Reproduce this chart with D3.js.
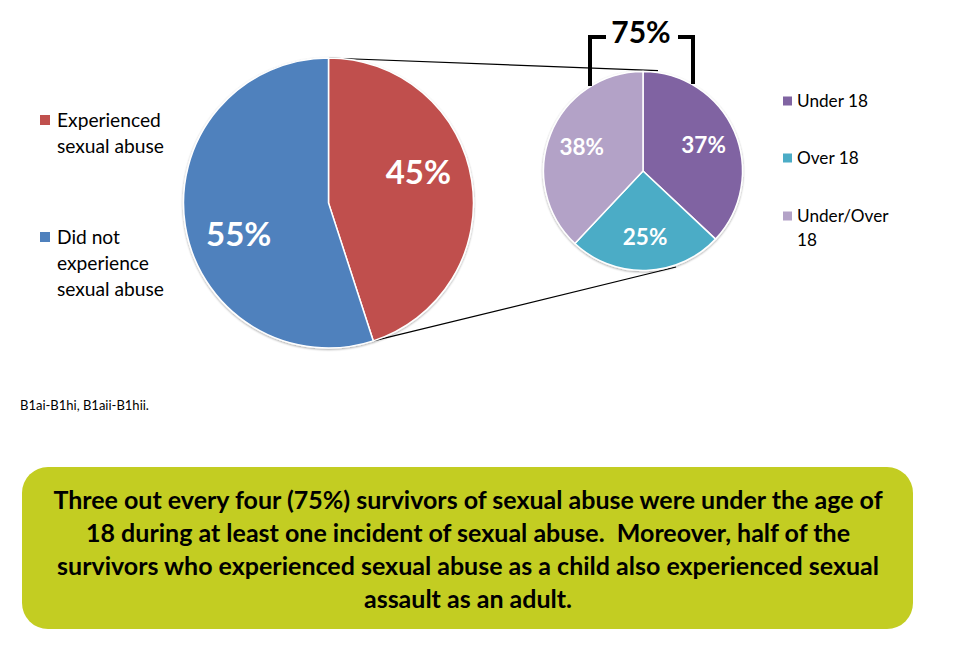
<!DOCTYPE html>
<html>
<head>
<meta charset="utf-8">
<script src="https://cdn.jsdelivr.net/npm/d3@7"></script>
<style>
  body { margin: 0; background: #fff; }
  svg { display: block; font-family: Lato, "Open Sans", sans-serif; }
</style>
</head>
<body>
<svg id="chart" width="961" height="649"></svg>
<script>
// main pie
var mainLabels = ["Experienced sexual abuse", "Did not experience sexual abuse"];
var mainValues = [45, 55];
var mainColors = ["#c0504d", "#4f81bd"];
// breakdown pie of the 45%
var subLabels = ["Under 18", "Over 18", "Under/Over 18"];
var subValues = [37, 25, 38];
var subColors = ["#8064a2", "#4bacc6", "#b3a2c7"];
var bracketLabel = "75%";
var noteLines = [
    "Three out every four (75%) survivors of sexual abuse were under the age of",
    "18 during at least one incident of sexual abuse.  Moreover, half of the",
    "survivors who experienced sexual abuse as a child also experienced sexual",
    "assault as an adult."
];
var sourceText = "B1ai-B1hi, B1aii-B1hii.";

var svg = d3.select("#chart");

var big = {cx: 328.5, cy: 203, r: 145};
var small = {cx: 643, cy: 171, r: 99.5};

var pie = d3.pie().sort(null).value(function (d) { return d; });

// soft edge like the office shadow
var defs = svg.append("defs");
var f = defs.append("filter").attr("id", "sh").attr("x", "-10%").attr("y", "-10%")
    .attr("width", "120%").attr("height", "120%");
f.append("feGaussianBlur").attr("in", "SourceAlpha").attr("stdDeviation", 1.2);
f.append("feOffset").attr("dx", 0).attr("dy", 0.5).attr("result", "b");
f.append("feComponentTransfer").append("feFuncA").attr("type", "linear").attr("slope", 0.35);
var fm = f.append("feMerge");
fm.append("feMergeNode");
fm.append("feMergeNode").attr("in", "SourceGraphic");

function pt(c, ang, r) {
    return [c.cx + r * Math.sin(ang), c.cy - r * Math.cos(ang)];
}

// connector lines between the two pies
var bigArcs = pie(mainValues);
var joinA = [0, bigArcs[0].endAngle];
var joinB = [8.5 * Math.PI / 180, 161 * Math.PI / 180];
var line = d3.line();
joinA.forEach(function (a, i) {
    svg.append("path")
        .attr("d", line([pt(big, a, big.r), pt(small, joinB[i], small.r + 2)]))
        .attr("stroke", "#000").attr("stroke-width", 1.2).attr("fill", "none");
});

function drawPie(c, values, colors, labelR, turn, fontSize) {
    var g = svg.append("g").attr("transform", "translate(" + c.cx + "," + c.cy + ")");
    var arc = d3.arc().innerRadius(0).outerRadius(c.r);
    var arcs = pie(values);
    var s = g.append("g").attr("filter", "url(#sh)");
    s.selectAll("path").data(arcs).enter().append("path")
        .attr("d", arc)
        .attr("fill", function (d, i) { return colors[i]; })
        .attr("stroke", "#fff").attr("stroke-width", 1.5);
    function lp(d) {
        var a = (d.startAngle + d.endAngle) / 2 + turn * Math.PI / 180;
        return [labelR * Math.sin(a), -labelR * Math.cos(a)];
    }
    g.selectAll("text").data(arcs).enter().append("text")
        .attr("x", function (d) { return lp(d)[0]; })
        .attr("y", function (d) { return lp(d)[1]; })
        .attr("dy", "0.36em")
        .attr("text-anchor", "middle")
        .attr("fill", "#fff")
        .attr("font-weight", "bold")
        .attr("font-size", fontSize)
        .text(function (d) { return d.data + "%"; });
    return g;
}

drawPie(big, mainValues, mainColors, 95, -10, 33);
drawPie(small, subValues, subColors, 66, 0, 22.5);

// bracket over the 75%
svg.append("path")
    .attr("d", "M590,86 V37 H606 M678,37 H693 V84")
    .attr("fill", "none").attr("stroke", "#000").attr("stroke-width", 4);
svg.append("text")
    .attr("x", 641).attr("y", 43)
    .attr("text-anchor", "middle")
    .attr("font-weight", "bold").attr("font-size", 30)
    .text(bracketLabel);

// left legend
var leftLines = [["Experienced", "sexual abuse"], ["Did not", "experience", "sexual abuse"]];
var leftY = [120, 237];
leftLines.forEach(function (ls, i) {
    svg.append("rect").attr("x", 40).attr("y", leftY[i] - 5).attr("width", 10).attr("height", 10)
        .attr("fill", mainColors[i]);
    ls.forEach(function (t, j) {
        svg.append("text").attr("x", 57).attr("y", leftY[i] + j * 26).attr("dy", "0.35em")
            .attr("font-size", 19.2).attr("fill", "#000").text(t);
    });
});

// right legend
var rightLines = [["Under 18"], ["Over 18"], ["Under/Over", "18"]];
var rightY = [101, 158, 216];
rightLines.forEach(function (ls, i) {
    svg.append("rect").attr("x", 783).attr("y", rightY[i] - 4.5).attr("width", 9).attr("height", 9)
        .attr("fill", subColors[i]);
    ls.forEach(function (t, j) {
        svg.append("text").attr("x", 797).attr("y", rightY[i] + j * 23.5).attr("dy", "0.35em")
            .attr("font-size", 17.2).attr("fill", "#000").text(t);
    });
});

// source note
svg.append("text").attr("x", 20).attr("y", 405).attr("dy", "0.35em")
    .attr("font-size", 13).attr("fill", "#000").text(sourceText);

// summary box
svg.append("rect")
    .attr("x", 22).attr("y", 467).attr("width", 891).attr("height", 162)
    .attr("rx", 26).attr("ry", 26)
    .attr("fill", "#c3cd22");
svg.append("g").selectAll("text").data(noteLines).enter().append("text")
    .attr("x", 468)
    .attr("y", function (d, i) { return 500 + i * 33; })
    .attr("dy", "0.35em")
    .attr("text-anchor", "middle")
    .attr("font-weight", "bold")
    .attr("font-size", 25)
    .attr("fill", "#000")
    .style("white-space", "pre")
    .text(function (d) { return d; });
</script>
</body>
</html>
